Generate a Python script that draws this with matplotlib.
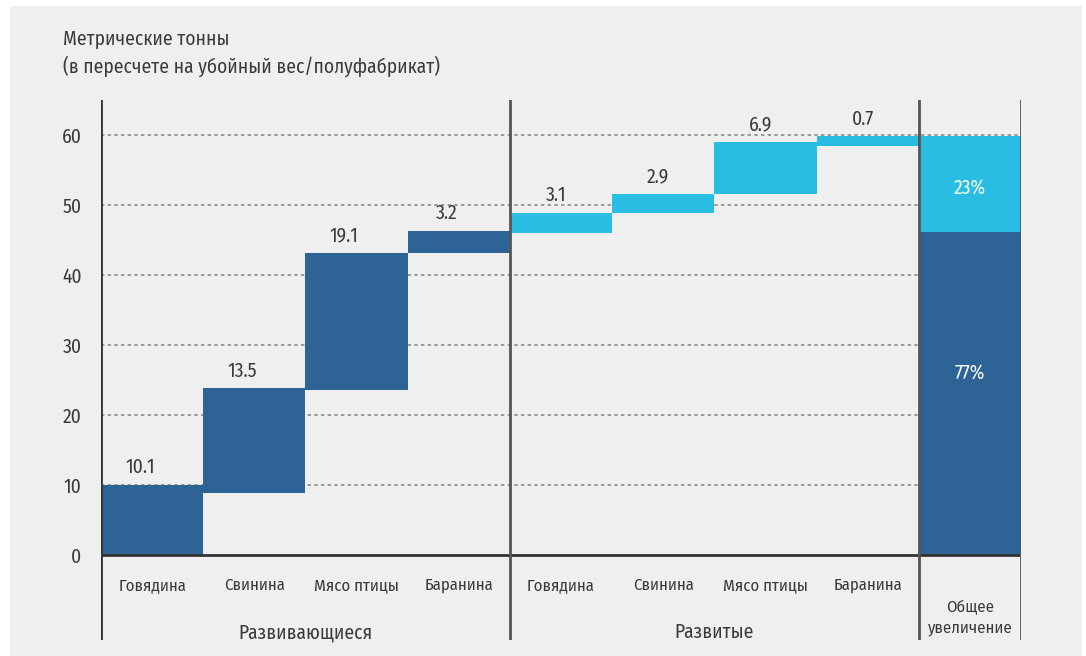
import numpy as np
import matplotlib
matplotlib.use('Agg')
import matplotlib.pyplot as plt
from matplotlib.patches import Rectangle

plt.rcParams['font.family'] = ['Fira Sans Condensed', 'PT Sans Narrow', 'Roboto Condensed', 'DejaVu Sans']
plt.rcParams['font.weight'] = 'normal'

# ---------------------------------------------------------------
# DATA
# ---------------------------------------------------------------
categories = ['Говядина', 'Свинина', 'Мясо птицы', 'Баранина',
              'Говядина', 'Свинина', 'Мясо птицы', 'Баранина']
groups = ['Развивающиеся', 'Развитые']
value_labels = ['10.1', '13.5', '19.1', '3.2', '3.1', '2.9', '6.9', '0.7']
bar_bottoms = [0.0, 8.8, 23.6, 43.2, 46.0, 48.9, 51.6, 58.5]
bar_tops = [10.0, 23.8, 43.2, 46.3, 48.9, 51.6, 59.05, 59.8]
total_developing = 46.2
total_all = 59.8
share_labels = ['77%', '23%']
total_label = 'Общее\nувеличение'
yticks = [0, 10, 20, 30, 40, 50, 60]

# ---------------------------------------------------------------
# SETTINGS
# ---------------------------------------------------------------
dark = '#2e6396'
light = '#29bde2'
bg = '#efefef'
txt = '#3a3a3a'
W, H = 1086, 656

fig = plt.figure(figsize=(W / 100, H / 100), dpi=100, facecolor='white')
fig.patches.append(Rectangle((10 / W, 0), 1072 / W, 650 / H, transform=fig.transFigure,
                             facecolor=bg, edgecolor='none', zorder=-10))

ax = fig.add_axes([101 / W, 16 / H, 920 / W, 540 / H])
ax.set_facecolor('none')
ax.set_xlim(0, 9)
ax.set_ylim(-12.14, 65.0)
for s in ax.spines.values():
    s.set_visible(False)
ax.set_xticks([])
ax.set_yticks(yticks)
ax.set_yticklabels([str(v) for v in yticks], fontsize=14, color=txt)
ax.tick_params(axis='y', length=0, pad=14)

# gridlines
ax.hlines(yticks[1:], 0, 9, colors='#8a8a8a', linestyles=(0, (2, 2)), linewidth=1.2, zorder=1)
ax.hlines(0, 0, 9, colors='#333333', linewidth=2, zorder=4)

# waterfall bars
x = np.arange(len(categories)) + 0.5
colors = [dark] * 4 + [light] * 4
heights = np.array(bar_tops) - np.array(bar_bottoms)
ax.bar(x, heights, width=1.0, bottom=bar_bottoms, color=colors, zorder=3, linewidth=0)
for i, (xi, top, lab) in enumerate(zip(x, bar_tops, value_labels)):
    shift = -0.12 if i < 4 else -0.05
    ax.text(xi + shift, top + 2.5, lab, ha='center', va='center', fontsize=14, color=txt)

# total bar
ax.bar(8.5, total_developing, width=1.0, color=dark, zorder=3, linewidth=0)
ax.bar(8.5, total_all - total_developing, width=1.0, bottom=total_developing,
       color=light, zorder=3, linewidth=0)
ax.text(8.5, 26.0, share_labels[0], ha='center', va='center', fontsize=14, color='white', zorder=5)
ax.text(8.5, (total_developing + total_all) / 2 - 0.5, share_labels[1], ha='center', va='center',
        fontsize=14, color='white', zorder=5)

# separators
for xv in [0, 4, 8, 9]:
    ax.axvline(xv, color='#555555' if xv else '#333333', linewidth=2, zorder=5)

# category and group labels
for xi, cat in zip(x, categories):
    ax.text(xi, -4.3, cat, ha='center', va='center', fontsize=12, color=txt)
ax.text(2.0, -11.1, groups[0], ha='center', va='center', fontsize=14, color=txt)
ax.text(6.0, -11.1, groups[1], ha='center', va='center', fontsize=14, color=txt)
ax.text(8.5, -9.0, total_label, ha='center', va='center', fontsize=12, color=txt,
        linespacing=1.35)

# title
fig.text(63 / W, 1 - 29 / H, 'Метрические тонны\n(в пересчете на убойный вес/полуфабрикат)',
         ha='left', va='top', fontsize=14, color=txt, linespacing=1.4)

fig.savefig('out.png', dpi=100, facecolor='white')
